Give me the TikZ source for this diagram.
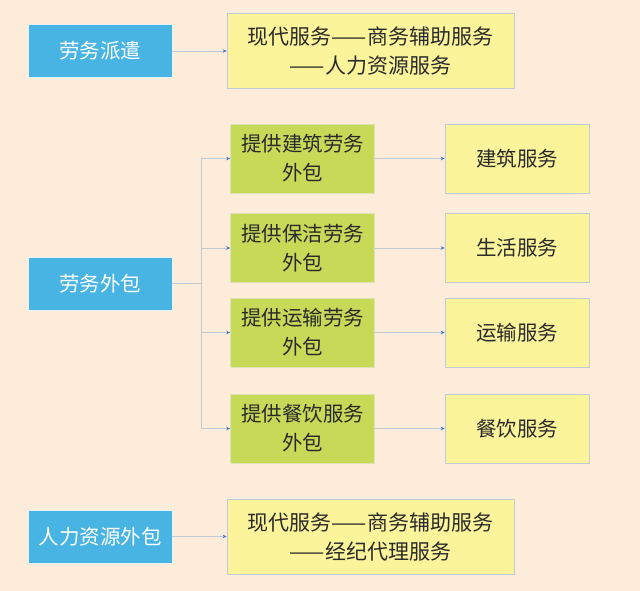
\documentclass[tikz,border=0pt]{standalone}
\usepackage{fontspec}
\setmainfont{Noto Sans CJK SC}
\usetikzlibrary{arrows.meta}
\definecolor{bg}{HTML}{FDECD9}
\definecolor{bluebox}{HTML}{48B4E4}
\definecolor{greenbox}{HTML}{C6DA58}
\definecolor{yellowbox}{HTML}{FBF49B}
\definecolor{linec}{HTML}{BFCBD6}
\definecolor{arrc}{HTML}{3C78BE}
\definecolor{txt}{HTML}{2A2A2A}
\tikzset{
  base/.style={rectangle, inner sep=0pt, align=center, font=\fontsize{20.5}{29}\selectfont},
  bluenode/.style={base, fill=bluebox, draw=white!85!bluebox, line width=0.6pt, text=white, minimum width=144pt, minimum height=53pt},
  greennode/.style={base, fill=greenbox, draw=greenbox!85!black!40!white, line width=0.6pt, text=txt, minimum width=144pt, minimum height=69pt},
  yellownode/.style={base, fill=yellowbox, draw=linec, line width=0.6pt, text=txt, minimum width=144pt, minimum height=69pt},
  widenode/.style={yellownode, minimum width=287pt, minimum height=75pt, font=\fontsize{21}{29}\selectfont},
  conn/.style={draw=linec, line width=0.8pt},
  arr/.style={conn, -{Stealth[length=4pt,width=3.5pt,color=arrc]}}
}
\begin{document}
\begin{tikzpicture}[x=1pt,y=-1pt]
\fill[bg] (0,0) rectangle (640,591);
\useasboundingbox (0,0) rectangle (640,591);

\node[bluenode] (pq) at (100,51) {劳务派遣};
\node[bluenode] (wb) at (100,283.5) {劳务外包};
\node[bluenode] (rl) at (100,536.5) {人力资源外包};

\node[widenode] (ypq) at (370.5,51) {现代服务——商务辅助服务\\——人力资源服务};
\node[widenode] (yrl) at (370.5,536.5) {现代服务——商务辅助服务\\——经纪代理服务};

\node[greennode] (g1) at (302.5,158.5) {提供建筑劳务\\外包};
\node[greennode] (g2) at (302.5,248) {提供保洁劳务\\外包};
\node[greennode] (g3) at (302.5,332.5) {提供运输劳务\\外包};
\node[greennode] (g4) at (302.5,428.5) {提供餐饮服务\\外包};

\node[yellownode] (s1) at (517,158.5) {建筑服务};
\node[yellownode] (s2) at (517,248) {生活服务};
\node[yellownode] (s3) at (517,332.5) {运输服务};
\node[yellownode] (s4) at (517,428.5) {餐饮服务};

\coordinate (tj) at (201,283.5);
\coordinate (t1) at (201,158.5);
\coordinate (t2) at (201,248);
\coordinate (t3) at (201,332.5);
\coordinate (t4) at (201,428.5);

\draw[arr] (pq.east) -- (ypq.west);
\draw[arr] (rl.east) -- (yrl.west);
\draw[conn] (wb.east) -- (tj);
\draw[conn] (t1) -- (t4);
\draw[arr] (t1) -- (g1.west);
\draw[arr] (t2) -- (g2.west);
\draw[arr] (t3) -- (g3.west);
\draw[arr] (t4) -- (g4.west);
\draw[arr] (g1.east) -- (s1.west);
\draw[arr] (g2.east) -- (s2.west);
\draw[arr] (g3.east) -- (s3.west);
\draw[arr] (g4.east) -- (s4.west);
\end{tikzpicture}
\end{document}
